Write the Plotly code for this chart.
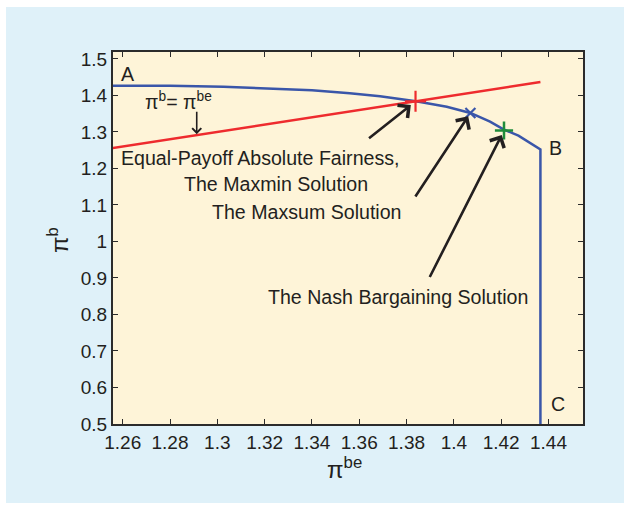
import plotly.graph_objects as go

# Pareto frontier of the bargaining problem (pi_be, pi_b)
frontier_x = [1.2500, 1.2800, 1.3026, 1.3250, 1.3400, 1.3560, 1.3688, 1.3840,
              1.3970, 1.4070, 1.4153, 1.4210, 1.4273, 1.4366, 1.4366]
frontier_y = [1.4270, 1.4265, 1.4240, 1.4190, 1.4140, 1.4060, 1.3980, 1.3840,
              1.3690, 1.3520, 1.3280, 1.3070, 1.2900, 1.2520, 0.5000]

# Equal-payoff line pi_b = pi_be
equal_x = [1.2500, 1.4366]
equal_y = [1.2500, 1.4366]

# Solution points
maxmin_pt = (1.3838, 1.3838)
maxsum_pt = (1.4070, 1.3520)
nash_pt = (1.4212, 1.3040)
equal_arrow_pt = (1.2913, 1.2913)

x_ticks = [1.26, 1.28, 1.30, 1.32, 1.34, 1.36, 1.38, 1.40, 1.42, 1.44]
x_tick_text = ["1.26", "1.28", "1.3", "1.32", "1.34", "1.36", "1.38", "1.4", "1.42", "1.44"]
y_ticks = [0.5, 0.6, 0.7, 0.8, 0.9, 1.0, 1.1, 1.2, 1.3, 1.4, 1.5]
y_tick_text = ["0.5", "0.6", "0.7", "0.8", "0.9", "1", "1.1", "1.2", "1.3", "1.4", "1.5"]

FONT = "Liberation Sans, Arial, Helvetica, sans-serif"
INK = "#231f20"
BLUE = "#3a56a9"
RED = "#ee2b2e"
GREEN = "#1f8c3b"

fig = go.Figure()

fig.add_trace(go.Scatter(x=frontier_x, y=frontier_y, mode="lines",
                         line=dict(color=BLUE, width=2.5), showlegend=False))
fig.add_trace(go.Scatter(x=equal_x, y=equal_y, mode="lines",
                         line=dict(color=RED, width=2.5), showlegend=False))
fig.add_trace(go.Scatter(x=[maxmin_pt[0]], y=[maxmin_pt[1]], mode="markers",
                         marker=dict(symbol="cross-thin", size=15,
                                     line=dict(color=RED, width=2.2)),
                         showlegend=False))
fig.add_trace(go.Scatter(x=[maxsum_pt[0]], y=[maxsum_pt[1]], mode="markers",
                         marker=dict(symbol="x-thin", size=10,
                                     line=dict(color=BLUE, width=2.2)),
                         showlegend=False))
fig.add_trace(go.Scatter(x=[nash_pt[0]], y=[nash_pt[1]], mode="markers",
                         marker=dict(symbol="cross-thin", size=13,
                                     line=dict(color=GREEN, width=2.5)),
                         showlegend=False))

# Outer light-blue panel and the plot-area fill on top of it
fig.add_shape(type="rect", xref="paper", yref="paper", layer="below",
              x0=(6 - 113) / 470, x1=(624 - 113) / 470,
              y0=(424 - 503) / 372, y1=(424 - 7) / 372,
              fillcolor="#dff1f9", line=dict(width=0))
fig.add_shape(type="rect", xref="paper", yref="paper", layer="below",
              x0=0, x1=1, y0=0, y1=1,
              fillcolor="#fef4d8", line=dict(width=0))

txt = dict(family=FONT, size=19.6, color=INK)
labels = [
    ("A", 1.2622, 1.459),
    ("B", 1.4428, 1.256),
    ("C", 1.4441, 0.555),
    ("π<sup>b</sup>= π<sup>be</sup>", 1.2834, 1.384),
    ("Equal-Payoff Absolute Fairness,", 1.3181, 1.2288),
    ("The Maxmin Solution", 1.3246, 1.1575),
    ("The Maxsum Solution", 1.3380, 1.0808),
    ("The Nash Bargaining Solution", 1.3762, 0.848),
]
for text, x, y in labels:
    fig.add_annotation(x=x, y=y, text=text, showarrow=False, font=txt,
                       xanchor="center", yanchor="middle")

# Arrows pointing at the solutions
arrows = [
    (equal_arrow_pt, 0, -25, 1.6, 1.1, 1),
    (maxmin_pt, -48, 38, 2.6, 1.2, 6),
    (maxsum_pt, -56, 85, 2.6, 1.2, 4),
    (nash_pt, -75, 148, 2.6, 1.2, 5),
]
for (px, py), ax, ay, w, s, so in arrows:
    fig.add_annotation(x=px, y=py, ax=ax, ay=ay, text="", showarrow=True,
                       arrowhead=4, arrowwidth=w, arrowsize=s, arrowcolor=INK,
                       standoff=so)

# Axis titles
fig.add_annotation(xref="paper", yref="paper", x=(344 - 113) / 470, y=(424 - 468) / 372,
                   text="π<sup>be</sup>", showarrow=False, font=dict(family=FONT, size=24, color=INK),
                   xanchor="center", yanchor="middle")
fig.add_annotation(xref="paper", yref="paper", x=(58 - 113) / 470, y=(424 - 240) / 372,
                   text="π<sup>b</sup>", showarrow=False, font=dict(family=FONT, size=24, color=INK),
                   xanchor="center", yanchor="middle", textangle=-90)

axis_common = dict(showline=True, linecolor="#2b2b2b", linewidth=2, mirror="ticks",
                   ticks="inside", ticklen=5, tickwidth=1.3, tickcolor="#2b2b2b",
                   showgrid=False, zeroline=False,
                   tickfont=dict(family=FONT, size=19, color=INK))

fig.update_xaxes(range=[1.2559, 1.4546], tickvals=x_ticks, ticktext=x_tick_text,
                 **axis_common)
fig.update_yaxes(range=[0.5, 1.519], tickvals=y_ticks, ticktext=y_tick_text,
                 **axis_common)

fig.update_layout(width=624, height=506,
                  margin=dict(l=113, r=41, t=52, b=82),
                  paper_bgcolor="white", plot_bgcolor="#fef4d8",
                  font=dict(family=FONT, color=INK))

fig.write_html("out.html")
